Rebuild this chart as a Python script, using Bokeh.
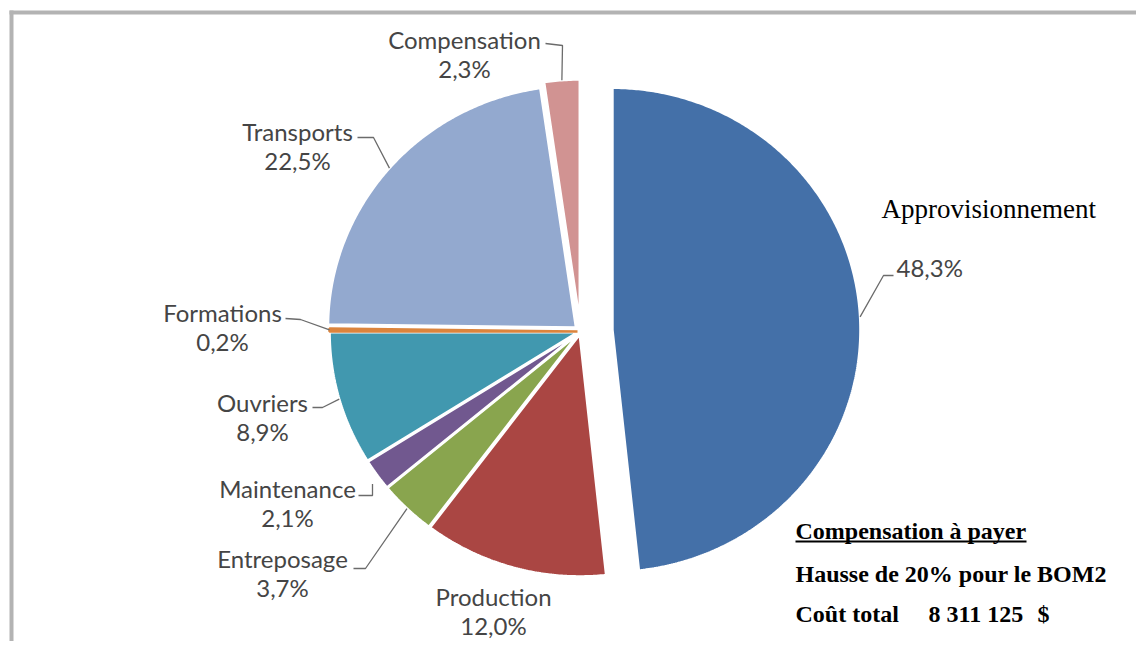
import math
from bokeh.plotting import figure
from bokeh.models import Range1d, ColumnDataSource
from bokeh.embed import file_html
from bokeh.resources import INLINE
from bokeh.core.properties import value

# ---------------- data ----------------
categories = ["Approvisionnement", "Production", "Entreposage", "Maintenance",
              "Ouvriers", "Formations", "Transports", "Compensation"]
shares = [48.3, 12.0, 3.7, 2.1, 8.9, 0.2, 22.5, 2.3]
pct_labels = ["48,3%", "12,0%", "3,7%", "2,1%", "8,9%", "0,2%", "22,5%", "2,3%"]

note_title = "Compensation à payer"
note_line2 = "Hausse de 20% pour le BOM2"
note_cost_label = "Coût total"
note_cost_value = "8 311 125"
note_currency = "$"

# ---------------- style / layout ----------------
colors = ["#4470A8", "#AA4643", "#89A54E", "#71588F",
          "#4198AF", "#DB843D", "#93A9CF", "#D19392"]
outline = ["white", "white", "white", "white", "white", "#DB843D", "white", "white"]
explode = [32, 3, 3, 3, 3, 3, 6, 10]          # px pulled out along mid angle
CX, CY, RX, RY = 580.0, 331.0, 248.0, 242.0    # pie centre / radii (px)

# label anchors (name line centre) and leader elbows
label_pos = {
    "Approvisionnement": None,
    "Production": (493, 596),
    "Entreposage": (282, 558),
    "Maintenance": (287, 488),
    "Ouvriers": (262, 402),
    "Formations": (222, 312),
    "Transports": (297, 131),
    "Compensation": (464, 39),
}
leader_elbow = {
    "Approvisionnement": [(893, 275), (883, 275)],
    "Production": None,
    "Entreposage": [(353, 568), (365, 568)],
    "Maintenance": [(358, 495), (372, 495)],
    "Ouvriers": [(312, 407), (322, 407)],
    "Formations": [(285, 318), (300, 319)],
    "Transports": [(357, 137), (373, 137)],
    "Compensation": [(545, 43), (562, 45)],
}

W, H = 1136, 641
p = figure(width=W, height=H, x_range=Range1d(0, W), y_range=Range1d(H, 0),
           output_backend="svg", toolbar_location=None, min_border=0)
p.axis.visible = False
p.grid.visible = False
p.background_fill_color = "white"
p.border_fill_color = "white"
p.outline_line_color = None

# frame border (top and left, as in the reference)
p.segment(x0=[9, 11], y0=[12, 10], x1=[W, 11], y1=[12, H], line_color="#b3b3b3", line_width=4)

total = sum(shares)
xs, ys, mids, offs = [], [], [], []
cum = 0.0
for s, e in zip(shares, explode):
    a0 = cum / total * 360.0
    a1 = (cum + s) / total * 360.0
    cum += s
    mid = math.radians((a0 + a1) / 2)
    dx, dy = e * math.sin(mid), -e * math.cos(mid)
    n = max(2, int((a1 - a0) / 0.5) + 1)
    px = [CX + dx]
    py = [CY + dy]
    for i in range(n):
        a = math.radians(a0 + (a1 - a0) * i / (n - 1))
        px.append(CX + dx + RX * math.sin(a))
        py.append(CY + dy - RY * math.cos(a))
    xs.append(px)
    ys.append(py)
    mids.append(mid)
    offs.append((dx, dy))

src = ColumnDataSource(dict(xs=xs, ys=ys, color=colors, line=outline, cat=categories))
p.patches("xs", "ys", source=src, fill_color="color", line_color="line", line_width=2.5)

# leader lines: from elbow to point on slice arc (at mid angle)
lx, ly = [], []
for cat, mid, (dx, dy) in zip(categories, mids, offs):
    el = leader_elbow[cat]
    if not el:
        continue
    tip = (CX + dx + RX * math.sin(mid), CY + dy - RY * math.cos(mid))
    if cat == "Maintenance":
        tip = (el[1][0], tip[1] + 9)
    pts = el + [tip]
    lx.append([q[0] for q in pts])
    ly.append([q[1] for q in pts])
p.multi_line(lx, ly, line_color="#6b6b6b", line_width=1.3)

FONT = value("Lato")
LC = "#454545"
nx, ny, nt, vx, vy, vt = [], [], [], [], [], []
for cat, pct in zip(categories, pct_labels):
    pos = label_pos[cat]
    if pos is None:
        continue
    nx.append(pos[0]); ny.append(pos[1]); nt.append(cat)
    vx.append(pos[0]); vy.append(pos[1] + 29); vt.append(pct)
p.text(nx, ny, text=nt, text_font=FONT, text_font_size="24px", text_color=LC,
       text_align="center", text_baseline="middle")
p.text(vx, vy, text=vt, text_font=FONT, text_font_size="24px", text_color=LC,
       text_align="center", text_baseline="middle")

# Approvisionnement label
p.text([896], [267], text=[pct_labels[0]], text_font=FONT, text_font_size="24px",
       text_color=LC, text_align="left", text_baseline="middle")
p.text([881], [208], text=[categories[0]], text_font=value("Liberation Serif"),
       text_font_size="27px", text_color="black", text_align="left", text_baseline="middle")

# note block
SERIF = value("Liberation Serif")
p.text([795, 795, 795, 928, 1037], [530, 573, 613, 613, 613],
       text=[note_title, note_line2, note_cost_label, note_cost_value, note_currency],
       text_font=SERIF, text_font_size="24px", text_font_style="bold",
       text_color="black", text_align="left", text_baseline="middle")
p.segment(x0=[795], y0=[541], x1=[1026], y1=[541], line_color="black", line_width=2)

open("out.html", "w").write(file_html(p, INLINE))
